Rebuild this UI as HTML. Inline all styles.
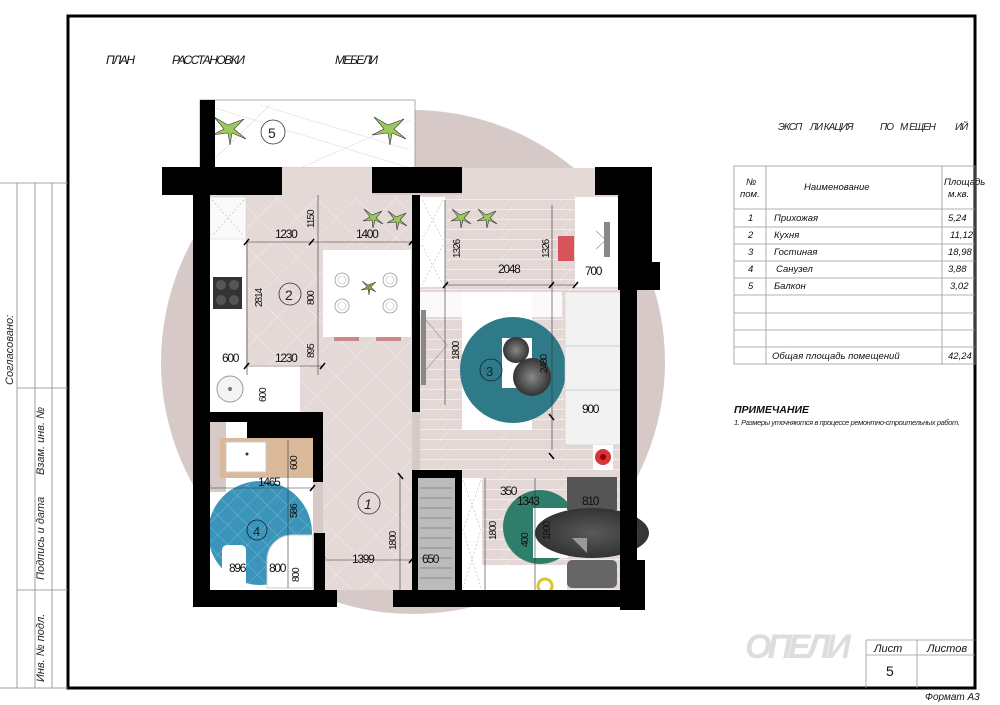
<!DOCTYPE html>
<html><head><meta charset="utf-8"><style>
html,body{margin:0;padding:0;background:#fff;}
svg{display:block;}
text{font-family:"Liberation Sans",sans-serif;}
</style></head><body>
<svg width="1000" height="705" viewBox="0 0 1000 705" xmlns="http://www.w3.org/2000/svg">
<defs>
<pattern id="diag" width="28" height="28" patternUnits="userSpaceOnUse" patternTransform="rotate(45)">
<rect width="28" height="28" fill="#e4d9d6"/>
<path d="M0 0H28M0 0V28" stroke="#f4eeec" stroke-width="1"/>
</pattern>
<pattern id="plank" width="60" height="10" patternUnits="userSpaceOnUse">
<rect width="60" height="10" fill="#e3d8d5"/>
<path d="M0 9.5H60" stroke="#f2ecea" stroke-width="1"/>
<path d="M20 10L30 0" stroke="#efe8e6" stroke-width="0.6"/>
</pattern>
<pattern id="bt" width="14" height="14" patternUnits="userSpaceOnUse" patternTransform="rotate(45)">
<rect width="14" height="14" fill="none"/>
<path d="M0 0H14M0 0V14" stroke="#8ac3db" stroke-width="0.7"/>
</pattern>
<radialGradient id="ball"><stop offset="0" stop-color="#888"/><stop offset="1" stop-color="#333"/></radialGradient>
<radialGradient id="ell"><stop offset="0" stop-color="#5a5a5a"/><stop offset="1" stop-color="#333"/></radialGradient>
</defs>

<rect x="68" y="16" width="907" height="672" fill="none" stroke="#000" stroke-width="3"/>
<g stroke="#888" stroke-width="0.8" fill="none">
<line x1="0" y1="183" x2="68" y2="183"/>
<line x1="17" y1="183" x2="17" y2="688"/>
<line x1="35" y1="183" x2="35" y2="388"/>
<line x1="52" y1="183" x2="52" y2="388"/>
<line x1="17" y1="388" x2="68" y2="388"/>
<line x1="35" y1="388" x2="35" y2="688"/>
<line x1="52" y1="388" x2="52" y2="688"/>
<line x1="17" y1="590" x2="68" y2="590"/>
<line x1="0" y1="688" x2="68" y2="688"/>
</g>
<g font-size="11" font-style="italic" fill="#222">
<text transform="translate(13,385) rotate(-90)">Согласовано:</text>
<text transform="translate(44,475) rotate(-90)">Взам. инв. №</text>
<text transform="translate(44,580) rotate(-90)">Подпись и дата</text>
<text transform="translate(44,682) rotate(-90)">Инв. № подл.</text>
</g>

<g font-size="12" fill="#111" font-style="italic" letter-spacing="-1.5">
<text x="106" y="64">ПЛАН</text>
<text x="172" y="64">РАССТАНОВКИ</text>
<text x="335" y="64">МЕБЕЛИ</text>
</g>

<circle cx="413" cy="362" r="252" fill="#d7c9c7"/>

<rect x="200" y="100" width="215" height="68" fill="#fff" stroke="#999" stroke-width="0.8"/>
<path d="M205 105L410 168M205 168L270 105M300 168L410 120M260 105L410 150" stroke="#ddd" stroke-width="0.6" fill="none"/>
<circle cx="273" cy="132" r="12" fill="#fff" stroke="#333" stroke-width="0.8"/>
<text x="268" y="138" font-size="14" fill="#222">5</text>
<g fill="#9cc95a" stroke="#334" stroke-width="0.6">
<path d="M228 125l-14-8 10 12-12 6 16-2 2 12 2-12 14 6-12-10 10-10z"/>
<path d="M388 125l-14-8 10 12-12 6 16-2 2 12 2-12 14 6-12-10 10-10z"/>
</g>

<rect x="210" y="195" width="202" height="217" fill="url(#diag)"/>
<rect x="323" y="337" width="89" height="253" fill="url(#diag)"/>
<rect x="420" y="195" width="200" height="275" fill="url(#plank)"/>
<rect x="462" y="470" width="158" height="120" fill="url(#plank)"/>
<rect x="280" y="168" width="92" height="30" fill="#e4d9d6"/>
<rect x="462" y="168" width="133" height="30" fill="#e4d9d6"/>

<rect x="210" y="197" width="36" height="215" fill="#fff"/>
<rect x="210" y="197" width="36" height="42" fill="#fafafa" stroke="#ccc" stroke-width="0.5"/>
<path d="M212 200L244 236M244 200L212 236" stroke="#bbb" stroke-dasharray="2 2" stroke-width="0.6"/>
<rect x="213" y="277" width="29" height="32" fill="#333"/>
<g fill="#555"><circle cx="221" cy="285" r="5"/><circle cx="234" cy="285" r="5"/><circle cx="221" cy="300" r="5"/><circle cx="234" cy="300" r="5"/></g>
<rect x="210" y="365" width="90" height="47" fill="#fff"/>
<circle cx="230" cy="389" r="13" fill="#f4f4f4" stroke="#999"/>
<circle cx="230" cy="389" r="2" fill="#777"/>

<rect x="323" y="250" width="88" height="87" fill="#fff"/>
<rect x="412" y="292" width="150" height="25" fill="#fff" opacity="0.85"/>
<g fill="#fff" stroke="#999" stroke-width="0.8">
<circle cx="342" cy="280" r="7"/><circle cx="390" cy="280" r="7"/><circle cx="342" cy="306" r="7"/><circle cx="390" cy="306" r="7"/>
</g>
<g fill="none" stroke="#bbb" stroke-width="0.6"><circle cx="342" cy="280" r="4"/><circle cx="390" cy="280" r="4"/><circle cx="342" cy="306" r="4"/><circle cx="390" cy="306" r="4"/></g>
<path d="M368 285l-6-4 5 6-6 3 7-1 1 6 1-6 6 3-5-5 5-5z" fill="#7aa040" stroke="#333" stroke-width="0.5"/>
<rect x="334" y="337" width="25" height="4" fill="#c88"/><rect x="376" y="337" width="25" height="4" fill="#c88"/>
<g fill="#9cc95a" stroke="#334" stroke-width="0.6">
<path d="M372 215l-8-6 6 8-7 4 9-1 1 8 2-8 8 4-7-6 6-7z"/>
<path d="M396 217l-8-6 6 8-7 4 9-1 1 8 2-8 8 4-7-6 6-7z"/>
<path d="M460 215l-8-6 6 8-7 4 9-1 1 8 2-8 8 4-7-6 6-7z"/>
<path d="M486 215l-8-6 6 8-7 4 9-1 1 8 2-8 8 4-7-6 6-7z"/>
</g>

<rect x="420" y="197" width="25" height="90" fill="#fff"/>
<path d="M422 200L443 240M443 200L422 240M422 245L443 285M443 245L422 285" stroke="#bbb" stroke-dasharray="2 2" stroke-width="0.6"/>
<rect x="575" y="197" width="45" height="90" fill="#fff"/>
<rect x="604" y="222" width="6" height="35" fill="#888"/>
<path d="M596 231l10 9-10 9" stroke="#888" fill="none" stroke-width="0.6"/>
<rect x="558" y="236" width="16" height="25" fill="#d9535a"/>
<rect x="421" y="310" width="5" height="75" fill="#888"/>
<path d="M426 320L447 345L426 370" stroke="#999" fill="none" stroke-width="0.6"/>
<rect x="462" y="292" width="70" height="138" fill="#fff"/>
<circle cx="513" cy="370" r="53" fill="#2e7a88"/>
<rect x="502" y="338" width="30" height="50" fill="#fff"/>
<circle cx="516" cy="350" r="13" fill="url(#ball)"/>
<circle cx="532" cy="377" r="19" fill="url(#ball)"/>
<circle cx="491" cy="370" r="11" fill="none" stroke="#123" stroke-width="0.8"/>
<text x="486" y="376" font-size="13" fill="#123">3</text>
<rect x="565" y="292" width="57" height="153" fill="#f2f2f2" stroke="#ccc" stroke-width="0.6"/>
<line x1="565" y1="346" x2="622" y2="346" stroke="#ccc"/><line x1="565" y1="390" x2="622" y2="390" stroke="#ccc"/>
<rect x="593" y="445" width="20" height="25" fill="#fff"/>
<circle cx="603" cy="457" r="8" fill="#d8353a"/><circle cx="603" cy="457" r="3" fill="#900"/>

<rect x="415" y="478" width="42" height="112" fill="#bbb"/>
<g stroke="#777" stroke-width="0.7">
<line x1="420" y1="488" x2="452" y2="488"/><line x1="420" y1="498" x2="452" y2="498"/><line x1="420" y1="508" x2="452" y2="508"/><line x1="420" y1="518" x2="452" y2="518"/><line x1="420" y1="528" x2="452" y2="528"/><line x1="420" y1="538" x2="452" y2="538"/><line x1="420" y1="548" x2="452" y2="548"/><line x1="420" y1="558" x2="452" y2="558"/><line x1="420" y1="568" x2="452" y2="568"/><line x1="420" y1="578" x2="452" y2="578"/>
</g>
<rect x="462" y="478" width="20" height="112" fill="#fff"/>
<path d="M463 480L481 530L463 588M481 480L463 530L481 588" stroke="#bbb" stroke-dasharray="2 2" stroke-width="0.6" fill="none"/>
<rect x="482" y="565" width="85" height="25" fill="#fff"/>
<circle cx="545" cy="586" r="7" fill="none" stroke="#d8c530" stroke-width="3"/>

<circle cx="540" cy="527" r="37" fill="#2f7d6b"/>
<rect x="533" y="508" width="35" height="50" fill="#fff"/>
<rect x="567" y="477" width="50" height="33" fill="#555"/>
<ellipse cx="592" cy="533" rx="57" ry="25" fill="url(#ell)"/>
<path d="M572 538h15v15z" fill="#999"/>
<rect x="567" y="560" width="50" height="28" rx="5" fill="#666"/>

<rect x="208" y="422" width="105" height="168" fill="#fff"/>
<rect x="208" y="422" width="18" height="70" fill="#d7c9c7"/>
<rect x="220" y="438" width="93" height="40" fill="#d9b99a"/>
<rect x="226" y="442" width="40" height="30" fill="#fff" stroke="#ccc"/>
<circle cx="247" cy="454" r="1.5" fill="#333"/>
<circle cx="260" cy="533" r="52" fill="#3b94ba"/>
<circle cx="260" cy="533" r="52" fill="url(#bt)"/>
<circle cx="257" cy="530" r="10" fill="none" stroke="#123" stroke-width="0.8"/>
<text x="253" y="536" font-size="13" fill="#123">4</text>
<rect x="222" y="545" width="24" height="43" rx="5" fill="#fff"/>
<path d="M267 588V560a25 25 0 0 1 25 -25h21v53z" fill="#fff" stroke="#ccc"/>

<g fill="#000">
<rect x="162" y="167" width="120" height="28"/>
<rect x="200" y="100" width="15" height="68"/>
<rect x="372" y="167" width="90" height="26"/>
<rect x="595" y="167" width="57" height="28"/>
<rect x="618" y="167" width="34" height="95"/>
<rect x="618" y="262" width="42" height="28"/>
<rect x="620" y="290" width="17" height="300"/>
<rect x="620" y="560" width="25" height="50"/>
<rect x="193" y="195" width="17" height="412"/>
<rect x="412" y="195" width="8" height="217"/>
<rect x="210" y="412" width="113" height="10"/>
<rect x="247" y="412" width="76" height="26"/>
<rect x="313" y="412" width="10" height="70"/>
<rect x="193" y="490" width="15" height="10"/>
<rect x="314" y="533" width="11" height="57"/>
<rect x="193" y="590" width="144" height="17"/>
<rect x="393" y="590" width="252" height="17"/>
<rect x="412" y="470" width="50" height="8"/>
<rect x="412" y="470" width="6" height="120"/>
<rect x="455" y="470" width="7" height="120"/>
</g>

<circle cx="290" cy="294" r="11" fill="none" stroke="#333" stroke-width="0.8"/>
<text x="285" y="300" font-size="14" fill="#222">2</text>
<circle cx="369" cy="503" r="11" fill="none" stroke="#333" stroke-width="0.8"/>
<text x="364" y="509" font-size="14" fill="#222" font-style="italic">1</text>

<g stroke="#333" stroke-width="0.6" fill="none">
<line x1="246" y1="242" x2="412" y2="242"/>
<line x1="246" y1="366" x2="323" y2="366"/>
<line x1="247" y1="240" x2="247" y2="375"/>
<line x1="318" y1="195" x2="318" y2="375"/>
<line x1="446" y1="285" x2="575" y2="285"/>
<line x1="445" y1="200" x2="445" y2="290"/>
<line x1="552" y1="205" x2="552" y2="290"/>
<line x1="552" y1="290" x2="552" y2="450"/>
<line x1="445" y1="290" x2="445" y2="405"/>
<line x1="323" y1="560" x2="412" y2="560"/>
<line x1="400" y1="475" x2="400" y2="590"/>
<line x1="485" y1="478" x2="485" y2="590"/>
<line x1="535" y1="478" x2="535" y2="590"/>
<line x1="208" y1="488" x2="313" y2="488"/>
<line x1="288" y1="440" x2="288" y2="588"/>
</g>
<g stroke="#000" stroke-width="1.5">
<path d="M244 245l5-6M309 245l5-6M409 245l5-6M244 369l5-6M320 369l5-6M443 288l5-6M549 288l5-6M573 288l5-6M398 473l5 6M320 563l5-6M409 563l5-6M205 491l5-6M310 491l5-6M549 453l5 6M549 414l5 6"/>
</g>
<g font-size="12" fill="#111" letter-spacing="-1.3">
<text x="275" y="238">1230</text>
<text x="356" y="238">1400</text>
<text x="275" y="362">1230</text>
<text x="222" y="362">600</text>
<text x="498" y="273">2048</text>
<text x="585" y="275">700</text>
<text x="582" y="413">900</text>
<text x="258" y="486">1465</text>
<text x="352" y="563">1399</text>
<text x="422" y="563">650</text>
<text x="500" y="495">350</text>
<text x="517" y="505">1343</text>
<text x="582" y="505">810</text>
<text x="229" y="572">896</text>
<text x="269" y="572">800</text>
</g>
<g font-size="10" fill="#111" letter-spacing="-1">
<text transform="translate(314,228) rotate(-90)">1150</text>
<text transform="translate(262,307) rotate(-90)">2814</text>
<text transform="translate(314,305) rotate(-90)">800</text>
<text transform="translate(314,358) rotate(-90)">895</text>
<text transform="translate(266,402) rotate(-90)">600</text>
<text transform="translate(460,258) rotate(-90)">1326</text>
<text transform="translate(549,258) rotate(-90)">1326</text>
<text transform="translate(459,360) rotate(-90)">1800</text>
<text transform="translate(547,373) rotate(-90)">2480</text>
<text transform="translate(297,470) rotate(-90)">600</text>
<text transform="translate(297,518) rotate(-90)">586</text>
<text transform="translate(299,582) rotate(-90)">800</text>
<text transform="translate(396,550) rotate(-90)">1800</text>
<text transform="translate(496,540) rotate(-90)">1800</text>
<text transform="translate(528,547) rotate(-90)">400</text>
<text transform="translate(550,540) rotate(-90)">1800</text>
</g>

<g font-size="10" font-style="italic" fill="#222" letter-spacing="-1">
<text x="778" y="130">ЭКСП</text><text x="810" y="130">ЛИ КАЦИЯ</text><text x="880" y="130">ПО</text><text x="900" y="130">М ЕЩЕН</text><text x="955" y="130">ИЙ</text>
</g>
<g stroke="#999" stroke-width="0.8" fill="none">
<rect x="734" y="166" width="241" height="198"/>
<line x1="766" y1="166" x2="766" y2="364"/>
<line x1="942" y1="166" x2="942" y2="364"/>
<line x1="734" y1="209" x2="975" y2="209"/>
<line x1="734" y1="227" x2="975" y2="227"/>
<line x1="734" y1="244" x2="975" y2="244"/>
<line x1="734" y1="261" x2="975" y2="261"/>
<line x1="734" y1="278" x2="975" y2="278"/>
<line x1="734" y1="295" x2="975" y2="295"/>
<line x1="734" y1="313" x2="975" y2="313"/>
<line x1="734" y1="330" x2="975" y2="330"/>
<line x1="734" y1="347" x2="975" y2="347"/>
</g>
<g font-size="9.5" font-style="italic" fill="#111">
<text x="746" y="185">№</text><text x="740" y="197">пом.</text>
<text x="804" y="190">Наименование</text>
<text x="944" y="185">Площадь</text><text x="948" y="197">м.кв.</text>
<text x="748" y="221">1</text><text x="774" y="221">Прихожая</text><text x="948" y="221">5,24</text>
<text x="748" y="238">2</text><text x="774" y="238">Кухня</text><text x="950" y="238">11,12</text>
<text x="748" y="255">3</text><text x="774" y="255">Гостиная</text><text x="948" y="255">18,98</text>
<text x="748" y="272">4</text><text x="776" y="272">Санузел</text><text x="948" y="272">3,88</text>
<text x="748" y="289">5</text><text x="774" y="289">Балкон</text><text x="950" y="289">3,02</text>
<text x="772" y="359">Общая площадь помещений</text><text x="948" y="359">42,24</text>
</g>
<text x="734" y="413" font-size="10.5" font-style="italic" font-weight="bold" fill="#111">ПРИМЕЧАНИЕ</text>
<text x="734" y="425" font-size="7.5" font-style="italic" fill="#222" letter-spacing="-0.4">1. Размеры уточняются в процессе ремонтно-строительных работ.</text>

<text x="745" y="658" font-size="34" font-style="italic" font-weight="bold" fill="#ddd" letter-spacing="-4">ОПЕЛИ</text>
<g stroke="#999" stroke-width="0.8" fill="none">
<line x1="866" y1="640" x2="975" y2="640"/>
<line x1="866" y1="655" x2="975" y2="655"/>
<line x1="866" y1="640" x2="866" y2="688"/>
<line x1="917" y1="640" x2="917" y2="688"/>
</g>
<text x="874" y="652" font-size="11" font-style="italic" fill="#111">Лист</text>
<text x="927" y="652" font-size="11" font-style="italic" fill="#111">Листов</text>
<text x="886" y="676" font-size="14" fill="#111">5</text>
<text x="925" y="700" font-size="10" font-style="italic" fill="#111">Формат А3</text>
</svg>
</body></html>
